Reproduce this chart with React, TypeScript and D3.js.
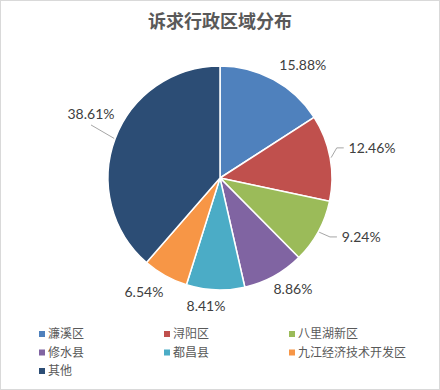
import React from "react";
import * as d3 from "d3";

const categories = ["濂溪区", "浔阳区", "八里湖新区", "修水县", "都昌县", "九江经济技术开发区", "其他"];
const values = [15.88, 12.46, 9.24, 8.86, 8.41, 6.54, 38.61];
const colors = ["#4F81BD", "#C0504D", "#9BBB59", "#8064A2", "#4BACC6", "#F79646", "#2C4D75"];
const title = "诉求行政区域分布";

// layout for labels: distance from centre and angle nudge (degrees)
const labelRadius = [140, 155, 153, 133, 129, 137, 144];
const labelNudge = [7.7, -0.8, -6, -4.5, 3.9, 4.5, 5.9];
const leaderType = ["none", "elbowRight", "elbowRight", "none", "none", "none", "straightLeft"];

const W = 440;
const H = 390;
const cx = 220;
const cy = 178;
const R = 112;

export default function App() {
  const pie = d3.pie<number>().sort(null).value((d) => d);
  const arcs = pie(values);
  const arcGen = d3.arc<d3.PieArcDatum<number>>().innerRadius(0).outerRadius(R);
  const fmt = (v: number) => v.toFixed(2) + "%";

  const polar = (ang: number, r: number): [number, number] => [
    cx + r * Math.sin(ang),
    cy - r * Math.cos(ang),
  ];

  return (
    <div style={{ position: "fixed", left: 0, top: 0 }}>
      <svg width={W} height={H} style={{ display: "block" }}>
        <rect x={0.5} y={0.5} width={W - 1} height={H - 1} fill="#fff" stroke="#d9d9d9" />
        <text
          x={W / 2}
          y={28}
          textAnchor="middle"
          fontFamily="'Noto Sans CJK SC', sans-serif"
          fontWeight="bold"
          fontSize={18}
          fill="#595959"
        >
          {title}
        </text>
        <g transform={`translate(${cx},${cy})`}>
          {arcs.map((a, i) => (
            <path key={i} d={arcGen(a) || ""} fill={colors[i]} stroke="#fff" strokeWidth={1.5} />
          ))}
        </g>
        {arcs.map((a, i) => {
          const mid = (a.startAngle + a.endAngle) / 2;
          const ang = mid + (labelNudge[i] * Math.PI) / 180;
          const [lx, ly] = polar(ang, labelRadius[i]);
          const txt = fmt(values[i]);
          const halfW = txt.length * 4.05;
          let leader = null;
          const [sx, sy] = polar(mid, R + 1);
          if (leaderType[i] === "elbowRight") {
            const ex = lx - halfW - 4;
            leader = (
              <polyline
                points={`${sx},${sy} ${ex - 7},${ly} ${ex},${ly}`}
                fill="none"
                stroke="#a6a6a6"
                strokeWidth={1}
              />
            );
          } else if (leaderType[i] === "straightLeft") {
            leader = (
              <line x1={sx} y1={sy} x2={lx} y2={ly + 11} stroke="#a6a6a6" strokeWidth={1} />
            );
          }
          return (
            <g key={i}>
              {leader}
              <text
                x={lx}
                y={ly}
                dy="0.35em"
                textAnchor="middle"
                fontFamily="Lato, sans-serif"
                fontSize={14}
                fill="#404040"
              >
                {txt}
              </text>
            </g>
          );
        })}
        {categories.map((c, i) => {
          const col = i % 3;
          const row = Math.floor(i / 3);
          const x = 39 + col * 125;
          const y = 331 + row * 18.5;
          return (
            <g key={c}>
              <rect x={x} y={y} width={6} height={6} fill={colors[i]} />
              <text
                x={x + 9}
                y={y + 3}
                dy="0.36em"
                fontFamily="'Noto Sans CJK SC', sans-serif"
                fontSize={12}
                fill="#595959"
              >
                {c}
              </text>
            </g>
          );
        })}
      </svg>
    </div>
  );
}
